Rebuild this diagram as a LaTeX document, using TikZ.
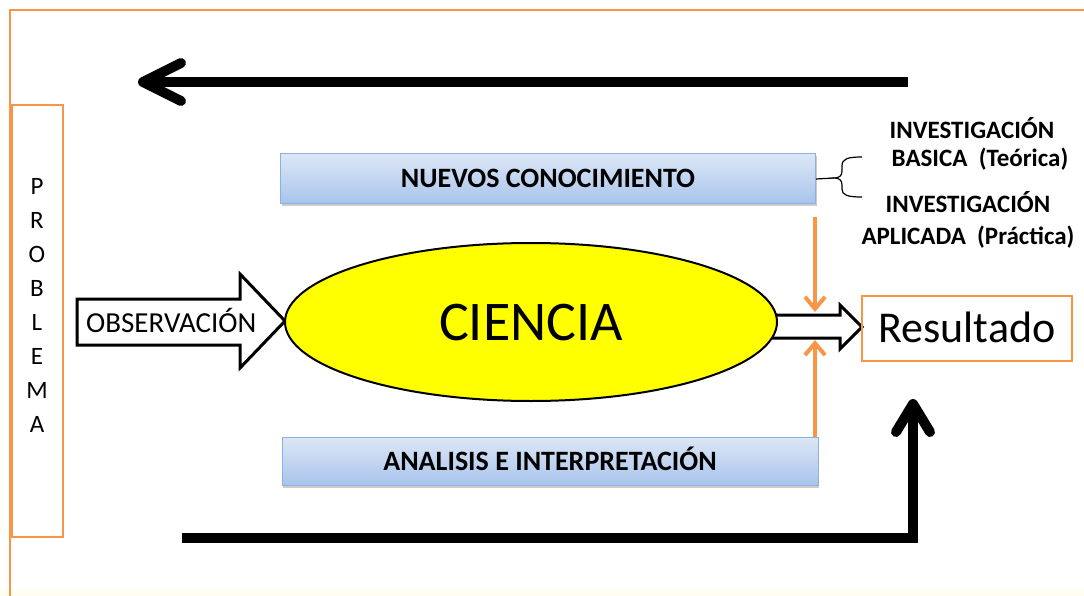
\documentclass[tikz,border=0pt]{standalone}
\usepackage{fontspec}
\setmainfont{Carlito}
\usetikzlibrary{shapes.geometric,arrows.meta,shadows}
\definecolor{orng}{HTML}{F79646}
\definecolor{blueT}{HTML}{DCE7F6}
\definecolor{blueB}{HTML}{A8C4EC}
\definecolor{blueD}{HTML}{8DB0DC}
\definecolor{yel}{RGB}{255,255,0}
\begin{document}
\begin{tikzpicture}[x=1pt,y=-1pt,
  frame/.style={draw=orng,line width=2.5pt},
  probbox/.style={draw=orng,line width=2.5pt,minimum width=51pt,minimum height=432pt,inner sep=0pt},
  bluebox/.style={draw=blueD,line width=1pt,top color=blueT,bottom color=blueB,inner sep=0pt,
     font=\bfseries\fontsize{28}{30}\selectfont,text height=18pt,text depth=0pt,
     drop shadow={opacity=0.4,shadow xshift=1pt,shadow yshift=-2.5pt}},
  bigline/.style={line width=10pt,black},
  barb/.style={line width=10pt,black,line cap=round,line join=round},
  blockarrow/.style={draw=black,line width=3pt,fill=white,line join=miter},
  orarrow/.style={draw=orng,line width=4pt,-{Straight Barb[length=12pt,width=20pt]}},
  side/.style={font=\bfseries\fontsize{25}{27}\selectfont,inner sep=0pt,anchor=base}]
\useasboundingbox (0,0) rectangle (1084,596);
\fill[white] (0,0) rectangle (1084,596);
\fill[yellow!6] (0,590) rectangle (1084,596);
% outer frame
\draw[frame] (10,596) -- (10,10) -- (1084,10);

% PROBLEMA
\node[probbox] (prob) at (37.5,321) {};
\node[font=\fontsize{25}{34}\selectfont,align=center,inner sep=0pt] (probtxt) at (37,305) {P\\R\\O\\B\\L\\E\\M\\A};

% top feedback arrow
\coordinate (topR) at (908,82);
\coordinate (topL) at (143,82);
\draw[bigline] (topR) -- (topL);
\draw[barb] (181,63) -- (topL) -- (181,101);

% bottom arrow
\coordinate (botL) at (182,538);
\coordinate (botC) at (913,538);
\coordinate (botT) at (913,404);
\draw[bigline,line join=miter] (botL) -- (botC) -- (botT);
\draw[barb] (896,432) -- (botT) -- (930,432);

% blue boxes
\node[bluebox,minimum width=535pt,minimum height=50pt] (nuevos) at (548,179) {NUEVOS CONOCIMIENTO};
\node[bluebox,minimum width=536pt,minimum height=48pt] (analisis) at (550,461) {ANALISIS E INTERPRETACIÓN};

% brace
\coordinate (braceTip) at (834,178);
\draw[line width=1.2pt] (nuevos.east) -- (braceTip);
\draw[line width=1.2pt] (862,157) .. controls (847,157) and (842,159) .. (842,166) -- (842,171)
  .. controls (842,176) and (839,178) .. (braceTip)
  .. controls (839,178) and (842,180) .. (842,185) -- (842,189)
  .. controls (842,195) and (847,197) .. (862,197);

% side texts
\node[side] (inv1) at (972,139) {INVESTIGACIÓN};
\node[side] (bas) at (980,167) {BASICA\ \ (Teórica)};
\node[side] (inv2) at (968,213) {INVESTIGACIÓN};
\node[side] (apl) at (968,244) {APLICADA\ \ (Práctica)};

% right block arrow (behind ellipse)
\draw[blockarrow] (760,315) -- (840,315) -- (840,305) -- (862,327) -- (840,349) -- (840,338) -- (760,338) -- cycle;

% observacion block arrow
\coordinate (obsTip) at (285,321);
\draw[blockarrow] (77,299) -- (240,299) -- (240,274) -- (obsTip) -- (240,368) -- (240,345) -- (77,345) -- cycle;
\node[font=\fontsize{29}{31}\selectfont,inner sep=0pt,anchor=base west] (obs) at (86,332) {OBSERVACIÓN};

% ellipse
\node[ellipse,draw=black,line width=2pt,fill=yel,minimum width=492pt,minimum height=158pt,inner sep=0pt,
  font=\fontsize{56}{60}\selectfont,text height=36pt,text depth=0pt] (ciencia) at (531,322) {CIENCIA};

% orange arrows
\coordinate (oTop) at (815,217);
\coordinate (oDown) at (815,312);
\coordinate (oUp) at (815,340);
\draw[orarrow] (oTop) -- (oDown);
\draw[orarrow] (analisis.north east -| oTop) -- (oUp);

% resultado
\node[draw=orng,line width=2pt,minimum width=210pt,minimum height=65pt,inner sep=0pt,
  font=\fontsize{44}{48}\selectfont,text height=29pt,text depth=0pt] (res) at (967,328) {Resultado};
\end{tikzpicture}
\end{document}
